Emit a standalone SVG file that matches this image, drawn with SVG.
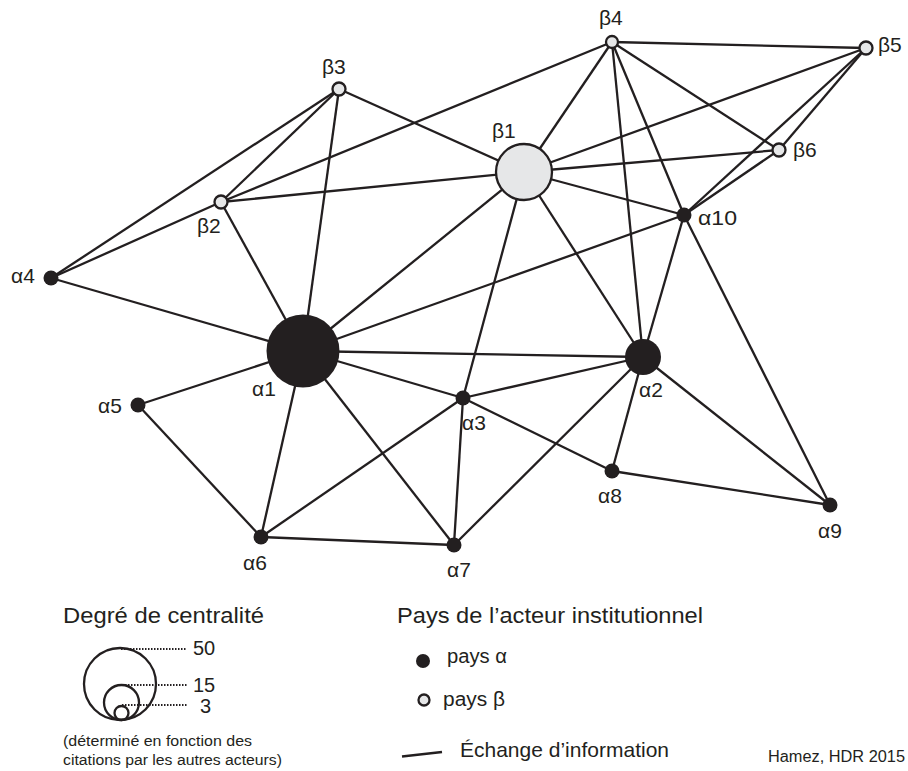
<svg xmlns="http://www.w3.org/2000/svg" width="908" height="771" viewBox="0 0 908 771">
<style>
.e{stroke:#231f20;stroke-width:2.3;fill:none}
.a{fill:#231f20}
.b{fill:#e6e7e8;stroke:#231f20;stroke-width:2.3}
text{font-family:"Liberation Sans",Arial,sans-serif;fill:#231f20}
.l{font-size:21px}
.dot{stroke:#231f20;stroke-width:2;stroke-dasharray:1.5 1.5;fill:none}
</style>
<rect width="908" height="771" fill="#fff"/>
<g id="edges" class="e">
<line x1="339" y1="89" x2="51" y2="278"/>
<line x1="339" y1="89" x2="221" y2="202"/>
<line x1="339" y1="89" x2="303" y2="351"/>
<line x1="339" y1="89" x2="524" y2="172"/>
<line x1="221" y1="202" x2="51" y2="278"/>
<line x1="221" y1="202" x2="612" y2="42"/>
<line x1="221" y1="202" x2="524" y2="172"/>
<line x1="221" y1="202" x2="303" y2="351"/>
<line x1="51" y1="278" x2="303" y2="351"/>
<line x1="524" y1="172" x2="303" y2="351"/>
<line x1="524" y1="172" x2="463" y2="398"/>
<line x1="524" y1="172" x2="643" y2="357"/>
<line x1="524" y1="172" x2="612" y2="42"/>
<line x1="524" y1="172" x2="866" y2="48"/>
<line x1="524" y1="172" x2="779" y2="150"/>
<line x1="524" y1="172" x2="684" y2="215"/>
<line x1="612" y1="42" x2="866" y2="48"/>
<line x1="612" y1="42" x2="779" y2="150"/>
<line x1="612" y1="42" x2="684" y2="215"/>
<line x1="612" y1="42" x2="643" y2="357"/>
<line x1="866" y1="48" x2="779" y2="150"/>
<line x1="866" y1="48" x2="684" y2="215"/>
<line x1="779" y1="150" x2="684" y2="215"/>
<line x1="684" y1="215" x2="303" y2="351"/>
<line x1="684" y1="215" x2="643" y2="357"/>
<line x1="684" y1="215" x2="830" y2="505"/>
<line x1="643" y1="357" x2="303" y2="351"/>
<line x1="643" y1="357" x2="463" y2="398"/>
<line x1="643" y1="357" x2="454" y2="545"/>
<line x1="643" y1="357" x2="612" y2="471"/>
<line x1="643" y1="357" x2="830" y2="505"/>
<line x1="463" y1="398" x2="303" y2="351"/>
<line x1="463" y1="398" x2="261" y2="537"/>
<line x1="463" y1="398" x2="454" y2="545"/>
<line x1="463" y1="398" x2="612" y2="471"/>
<line x1="303" y1="351" x2="138" y2="405"/>
<line x1="303" y1="351" x2="261" y2="537"/>
<line x1="303" y1="351" x2="454" y2="545"/>
<line x1="138" y1="405" x2="261" y2="537"/>
<line x1="261" y1="537" x2="454" y2="545"/>
<line x1="612" y1="471" x2="830" y2="505"/>
</g>
<g id="b1"><circle class="b" cx="524" cy="172" r="28"/><text class="l" x="492" y="138">β1</text></g>
<g id="b2"><circle class="b" cx="221" cy="202" r="6.5"/><text class="l" x="197" y="233">β2</text></g>
<g id="b3"><circle class="b" cx="339" cy="89" r="6.5"/><text class="l" x="322" y="74">β3</text></g>
<g id="b4"><circle class="b" cx="612" cy="42" r="6"/><text class="l" x="599" y="25">β4</text></g>
<g id="b5"><circle class="b" cx="866" cy="48" r="6.5"/><text class="l" x="878" y="52">β5</text></g>
<g id="b6"><circle class="b" cx="779" cy="150" r="6.5"/><text class="l" x="793" y="157">β6</text></g>
<g id="a1"><circle class="a" cx="303" cy="351" r="36.5"/><text class="l" x="252" y="396">α1</text></g>
<g id="a2"><circle class="a" cx="643" cy="357" r="18"/><text class="l" x="639" y="397">α2</text></g>
<g id="a3"><circle class="a" cx="463" cy="398" r="7.5"/><text class="l" x="462" y="430">α3</text></g>
<g id="a4"><circle class="a" cx="51" cy="278" r="7.5"/><text class="l" x="11" y="283">α4</text></g>
<g id="a5"><circle class="a" cx="138" cy="405" r="7.5"/><text class="l" x="98" y="413">α5</text></g>
<g id="a6"><circle class="a" cx="261" cy="537" r="7.5"/><text class="l" x="243" y="570">α6</text></g>
<g id="a7"><circle class="a" cx="454" cy="545" r="7.5"/><text class="l" x="447" y="577">α7</text></g>
<g id="a8"><circle class="a" cx="612" cy="471" r="7.5"/><text class="l" x="598" y="503">α8</text></g>
<g id="a9"><circle class="a" cx="830" cy="505" r="7.5"/><text class="l" x="818" y="538">α9</text></g>
<g id="a10"><circle class="a" cx="684" cy="215" r="7.5"/><text class="l" x="698" y="225" textLength="39" lengthAdjust="spacingAndGlyphs">α10</text></g>
<g id="legend-centralite">
<text x="63" y="623" font-size="22" textLength="201" lengthAdjust="spacingAndGlyphs">Degré de centralité</text>
<circle cx="120" cy="684" r="36" fill="none" stroke="#231f20" stroke-width="2.3"/>
<circle cx="121.5" cy="702.5" r="17.5" fill="none" stroke="#231f20" stroke-width="2.3"/>
<circle cx="121.5" cy="713" r="7" fill="none" stroke="#231f20" stroke-width="2.3"/>
<line class="dot" x1="121" y1="649" x2="187" y2="649"/>
<line class="dot" x1="122" y1="685" x2="187" y2="685"/>
<line class="dot" x1="122" y1="705" x2="187" y2="705"/>
<text x="193" y="655" font-size="20">50</text>
<text x="193" y="692" font-size="20">15</text>
<text x="200" y="713" font-size="20">3</text>
<text x="63" y="746" font-size="15.5" textLength="189" lengthAdjust="spacingAndGlyphs">(déterminé en fonction des</text>
<text x="63" y="765" font-size="15.5" textLength="219" lengthAdjust="spacingAndGlyphs">citations par les autres acteurs)</text>
</g>
<g id="legend-pays">
<text x="397" y="623" font-size="22" textLength="306" lengthAdjust="spacingAndGlyphs">Pays de l’acteur institutionnel</text>
<circle cx="423" cy="661" r="7" fill="#231f20"/>
<text x="447" y="663" font-size="20" textLength="60" lengthAdjust="spacingAndGlyphs">pays α</text>
<circle cx="424" cy="700" r="5.5" fill="#e6e7e8" stroke="#231f20" stroke-width="2.3"/>
<text x="443" y="706" font-size="20" textLength="62" lengthAdjust="spacingAndGlyphs">pays β</text>
<line x1="402" y1="756.5" x2="442" y2="752" stroke="#231f20" stroke-width="2.3"/>
<text x="460" y="757" font-size="21" textLength="209" lengthAdjust="spacingAndGlyphs">Échange d’information</text>
<text x="768" y="762" font-size="16" textLength="137" lengthAdjust="spacingAndGlyphs">Hamez, HDR 2015</text>
</g>
</svg>
